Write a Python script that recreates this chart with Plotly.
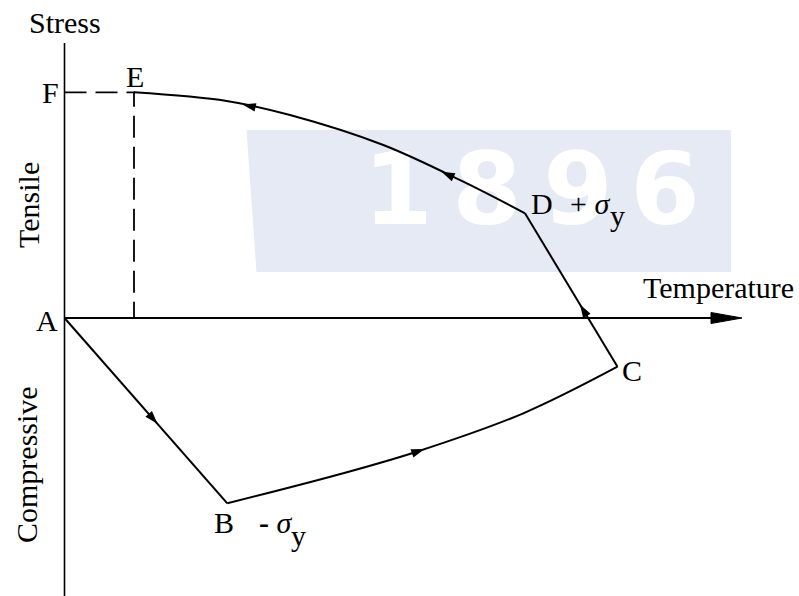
import math
import plotly.graph_objects as go

# Thermal stress cycle (schematic): temperature on x, stress on y, origin at A
A = (0.0, 0.0)
B = (162.8, -185.3)
C = (553.0, -48.7)
D = (460.5, 104.7)
E = (69.5, 225.7)

# loading path A -> B -> C -> D -> E
ab_T = [A[0], B[0]]
ab_S = [A[1], B[1]]
bc_T = [B[0], 272.2, 352.2, 458.8, C[0]]
bc_S = [B[1], -157.0, -133.7, -95.3, C[1]]
cd_T = [C[0], D[0]]
cd_S = [C[1], D[1]]
de_T = [D[0], 398.8, 318.8, 225.5, 162.2, E[0]]
de_S = [D[1], 136.3, 173.0, 203.0, 217.0, E[1]]

# direction arrows: (segment, temperature where the arrow tip sits)
arrow_at = [("ab", 93.0), ("bc", 360.0), ("cd", 515.5), ("de", 377.0), ("de", 178.0)]

T_axis_end = 677.5
S_axis_top = 275.0
S_axis_bottom = -280.0

FONT = "Liberation Serif"
INK = "black"
WM = "rgb(229,234,244)"

segments = {"ab": (ab_T, ab_S), "bc": (bc_T, bc_S), "cd": (cd_T, cd_S), "de": (de_T, de_S)}


def point_on(seg, t):
    xs, ys = segments[seg]
    for i in range(len(xs) - 1):
        x0, x1 = xs[i], xs[i + 1]
        lo, hi = min(x0, x1), max(x0, x1)
        if lo <= t <= hi and x1 != x0:
            f = (t - x0) / (x1 - x0)
            return t, ys[i] + f * (ys[i + 1] - ys[i]), x1 - x0, ys[i + 1] - ys[i]
    return xs[-1], ys[-1], xs[-1] - xs[-2], ys[-1] - ys[-2]


fig = go.Figure()

# faint watermark band with the year, kept underneath the diagram
fig.add_shape(type="path",
              path="M 182,188 L 666.5,188 L 666.5,46 L 192,46 Z",
              fillcolor=WM, line_width=0, layer="below")
fig.add_trace(go.Scatter(x=[333.5, 422.5, 513.5, 600.5], y=[119, 119, 119, 119],
                         mode="text", text=list("1896"),
                         textfont=dict(family="DejaVu Sans", size=100, color="white", weight="bold"),
                         hoverinfo="skip"))

# axes
fig.add_trace(go.Scatter(x=[0, 0], y=[S_axis_bottom, S_axis_top], mode="lines",
                         line=dict(color=INK, width=1.6), hoverinfo="skip"))
fig.add_trace(go.Scatter(x=[0, T_axis_end - 28], y=[0, 0], mode="lines",
                         line=dict(color=INK, width=2), hoverinfo="skip"))
fig.add_trace(go.Scatter(x=[T_axis_end - 31, T_axis_end, T_axis_end - 31, T_axis_end - 31],
                         y=[5.5, 0, -5.5, 5.5], mode="lines", fill="toself",
                         fillcolor=INK, line=dict(color=INK, width=1), hoverinfo="skip"))

# dashed projection from E
fig.add_trace(go.Scatter(x=[0, E[0], E[0]], y=[E[1], E[1], 0], mode="lines",
                         line=dict(color=INK, width=1.8, dash="22px,9px"), hoverinfo="skip"))

# path segments
for seg, shape in [("ab", "linear"), ("bc", "spline"), ("cd", "linear"), ("de", "spline")]:
    xs, ys = segments[seg]
    fig.add_trace(go.Scatter(x=xs, y=ys, mode="lines",
                             line=dict(color=INK, width=2, shape=shape, smoothing=1.0),
                             hoverinfo="skip"))

# arrowheads along the path (1 data unit = 1 px on both axes)
ax_x, ax_y, ax_ang = [], [], []
for seg, t in arrow_at:
    x, y, dx, dy = point_on(seg, t)
    ax_x.append(x)
    ax_y.append(y)
    ax_ang.append(math.degrees(math.atan2(dx, dy)))
fig.add_trace(go.Scatter(x=ax_x, y=ax_y, mode="markers",
                         marker=dict(symbol="arrow", size=14, angle=ax_ang,
                                     color=INK, line_width=0),
                         hoverinfo="skip"))

# labels
def label(x, y, text, size=30, xanchor="center", angle=0):
    fig.add_annotation(x=x, y=y, text=text, showarrow=False, textangle=angle,
                       font=dict(family=FONT, size=size, color=INK),
                       xanchor=xanchor, yanchor="middle")

label(0.5, 296, "Stress")
label(654, 30.8, "Temperature")
label(-36.5, 113, "Tensile", angle=-90)
label(-38, -146.5, "Compressive", angle=-90)
label(-17.5, -2, "A")
label(159.5, -204.2, "B")
label(567, -52.2, "C")
label(477.5, 114.5, "D")
label(70, 241.5, "E")
label(-14.5, 226, "F")
label(503.5, 114.5, "+ <i>σ</i>", xanchor="left")
label(553, 102.8, "y")
label(192.5, -204.2, "<b>-</b> <i>σ</i>", xanchor="left")
label(234, -217.2, "y")

fig.update_layout(
    width=799, height=596,
    margin=dict(l=0, r=0, t=0, b=0),
    paper_bgcolor="white", plot_bgcolor="white",
    showlegend=False,
    xaxis=dict(range=[-64.5, 734.5], visible=False, fixedrange=True),
    yaxis=dict(range=[-278, 318], visible=False, fixedrange=True),
)

fig.write_html("out.html")
